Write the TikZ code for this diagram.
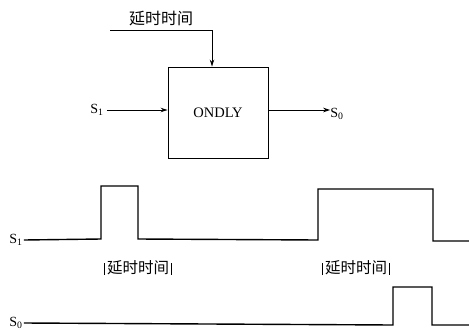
\documentclass[tikz,border=0pt]{standalone}
\usepackage{fontspec}
\setmainfont{Liberation Serif}
\newfontfamily\cjk{Noto Sans CJK SC}
\usetikzlibrary{arrows.meta}
\newcommand{\tbar}{\kern-1.5pt\rule[-1pt]{0.6pt}{12pt}\kern-1.5pt}
\begin{document}
\begin{tikzpicture}[x=1pt,y=-1pt,
  conn/.style={line width=0.9pt,-{Stealth[length=7pt,width=4.5pt]}},
  wave/.style={line width=1.4pt,line join=miter},
  lbl/.style={inner sep=0pt,font=\fontsize{14}{16}\selectfont},
  cn/.style={inner sep=0pt,font=\cjk\fontsize{16}{18}\selectfont}]
\useasboundingbox (0,0) rectangle (469,330);
% block diagram
\node[draw,line width=0.9pt,minimum width=100pt,minimum height=91pt,inner sep=0pt,
  font=\fontsize{14.5}{16}\selectfont] (box) at (218,112.5) {ONDLY};
\node[cn] (delay) at (161,19) {延时时间};
\coordinate (dstart) at (110,30);
\coordinate (dcorner) at (212,30);
\draw[conn] (dstart) -- (dcorner) -- (dcorner |- box.north);
\node[lbl] (s1) at (97,110) {S\textsubscript{1}};
\draw[conn] (s1.east) ++(3pt,0) coordinate (s1e) -- (s1e -| box.west);
\node[lbl] (s0) at (337,114) {S\textsubscript{0}};
\draw[conn] (box.east |- 0,110) coordinate (boxo) -- (s0.west |- boxo);
% waveforms
\node[lbl] (ws1) at (16,240) {S\textsubscript{1}};
\draw[wave] (ws1.east) ++(1pt,0) -- (101,239) -- (101,186) -- (138,186) -- (138,239)
  -- (318,240) -- (318,189) -- (433,189) -- (433,241) -- (469,241);
\node[cn,font=\cjk\fontsize{15.5}{18}\selectfont] (d1) at (138,268) {\tbar\ 延时时间\ \tbar};
\node[cn,font=\cjk\fontsize{15.5}{18}\selectfont] (d2) at (356,268) {\tbar\ 延时时间\ \tbar};
\node[lbl] (ws0) at (16,323) {S\textsubscript{0}};
\draw[wave] (ws0.east) ++(1pt,0) -- (393,325) -- (393,287) -- (432,287) -- (432,325) -- (469,325);
\end{tikzpicture}
\end{document}
